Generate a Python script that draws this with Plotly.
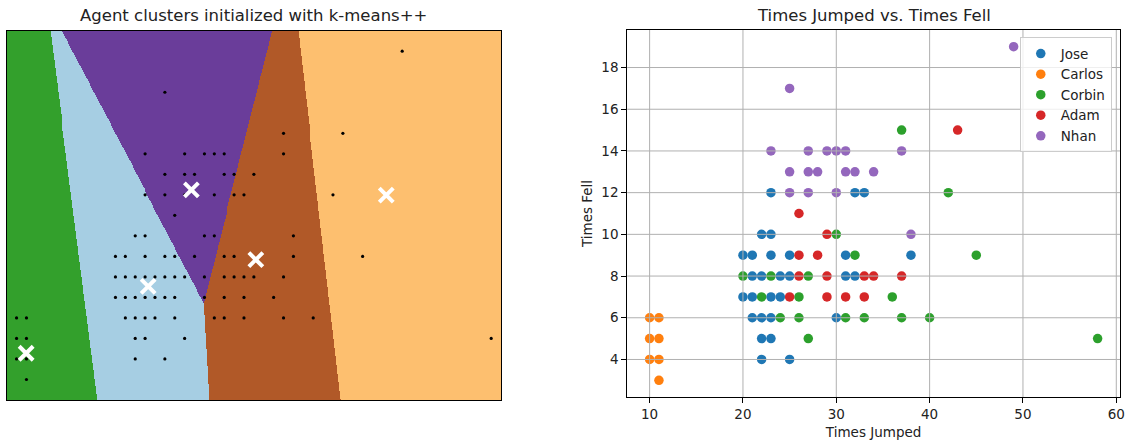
import numpy as np
import plotly.graph_objects as go

# ---------------- data ----------------
names = ["Jose", "Carlos", "Corbin", "Adam", "Nhan"]
series_colors = ["#1f77b4", "#ff7f0e", "#2ca02c", "#d62728", "#9467bd"]

jose_x = [23, 32, 33, 22, 23, 20, 21, 23, 25, 31, 38, 21, 22, 24, 25, 31, 32,
          20, 21, 23, 24, 21, 22, 23, 30, 22, 23, 22, 25]
jose_y = [12, 12, 12, 10, 10, 9, 9, 9, 9, 9, 9, 8, 8, 8, 8, 8, 8,
          7, 7, 7, 7, 6, 6, 6, 6, 5, 5, 4, 4]
carlos_x = [10, 11, 10, 11, 10, 11, 11]
carlos_y = [6, 6, 5, 5, 4, 4, 3]
corbin_x = [37, 42, 30, 32, 45, 20, 23, 27, 22, 26, 36, 24, 26, 31, 33, 37, 40, 27, 58]
corbin_y = [15, 12, 10, 9, 9, 8, 8, 8, 7, 7, 7, 6, 6, 6, 6, 6, 6, 5, 5]
adam_x = [43, 26, 29, 26, 28, 26, 29, 33, 34, 37, 25, 29, 31, 33]
adam_y = [15, 11, 10, 9, 9, 8, 8, 8, 8, 8, 7, 7, 7, 7]
nhan_x = [49, 25, 23, 27, 29, 30, 31, 37, 25, 27, 28, 31, 32, 34, 25, 27, 30, 38]
nhan_y = [19, 17, 14, 14, 14, 14, 14, 14, 13, 13, 13, 13, 13, 13, 12, 12, 12, 10]

series_x = [jose_x, carlos_x, corbin_x, adam_x, nhan_x]
series_y = [jose_y, carlos_y, corbin_y, adam_y, nhan_y]

# cluster centres and their region colours
centroid_x = [10.97, 23.31, 27.68, 34.2, 47.39]
centroid_y = [4.28, 7.54, 12.24, 8.84, 11.99]
region_colors = ["#33a02c", "#a6cee3", "#6a3d9a", "#b15928", "#fdbf6f"]

x_ticks = [10, 20, 30, 40, 50, 60]
y_ticks = [4, 6, 8, 10, 12, 14, 16, 18]

# ---------------- derived ----------------
all_x = np.array(sum(series_x, []), dtype=float)
all_y = np.array(sum(series_y, []), dtype=float)

# mesh for decision regions (data range +/- 1)
mx0, mx1 = all_x.min() - 1, all_x.max() + 1
my0, my1 = all_y.min() - 1, all_y.max() + 1
gx = np.arange(mx0, mx1 + 1e-9, 0.1)
gy = np.arange(my0, my1 + 1e-9, 0.05)
XX, YY = np.meshgrid(gx, gy)
cx = np.array(centroid_x)[:, None, None]
cy = np.array(centroid_y)[:, None, None]
Z = np.argmin((XX[None] - cx) ** 2 + (YY[None] - cy) ** 2, axis=0)

n = len(region_colors)
cscale = []
for i, c in enumerate(region_colors):
    cscale.append([i / n, c])
    cscale.append([(i + 1) / n, c])

# scatter axis range with 5% margins
xr = all_x.max() - all_x.min()
yr = all_y.max() - all_y.min()
sx0, sx1 = all_x.min() - 0.05 * xr, all_x.max() + 0.05 * xr
sy0, sy1 = all_y.min() - 0.05 * yr, all_y.max() + 0.05 * yr

W, H = 1131, 443
FONT = "DejaVu Sans"
TXT = "#222222"

fig = go.Figure()

# ---------------- left panel ----------------
fig.add_trace(go.Heatmap(
    x=gx, y=gy, z=Z, colorscale=cscale, zmin=-0.5, zmax=n - 0.5,
    showscale=False, zsmooth=False, hoverinfo="skip",
    xaxis="x", yaxis="y"))
fig.add_trace(go.Scatter(
    x=all_x, y=all_y, mode="markers",
    marker=dict(color="black", size=3.2),
    showlegend=False, xaxis="x", yaxis="y"))
fig.add_trace(go.Scatter(
    x=centroid_x, y=centroid_y, mode="markers",
    marker=dict(symbol="x-thin", size=14, color="white",
                line=dict(width=4, color="white")),
    showlegend=False, xaxis="x", yaxis="y"))

# ---------------- right panel ----------------
for nm, c, xs, ys in zip(names, series_colors, series_x, series_y):
    fig.add_trace(go.Scatter(
        x=xs, y=ys, mode="markers", name=nm,
        marker=dict(color=c, size=9.5, line=dict(width=0)),
        xaxis="x2", yaxis="y2"))

shapes = []
for t in x_ticks:
    if sx0 < t < sx1:
        shapes.append(dict(type="line", xref="x2", yref="y2 domain",
                           x0=t, x1=t, y0=0, y1=1, layer="above",
                           line=dict(color="#b0b0b0", width=1)))
for t in y_ticks:
    if sy0 < t < sy1:
        shapes.append(dict(type="line", xref="x2 domain", yref="y2",
                           x0=0, x1=1, y0=t, y1=t, layer="above",
                           line=dict(color="#b0b0b0", width=1)))

frame = dict(showline=True, mirror=True, linecolor="black", linewidth=1,
             zeroline=False)

fig.update_layout(
    width=W, height=H,
    margin=dict(l=0, r=0, t=0, b=0),
    paper_bgcolor="white", plot_bgcolor="white",
    font=dict(family=FONT, size=13.5, color=TXT),
    xaxis=dict(domain=[6.7 / W, 503.3 / W], range=[mx0, mx1],
               showticklabels=False, ticks="", showgrid=False, **frame),
    yaxis=dict(domain=[1 - 400 / H, 1 - 30.7 / H], range=[my0, my1],
               showticklabels=False, ticks="", showgrid=False, **frame),
    xaxis2=dict(domain=[630 / W, 1125 / W], range=[sx0, sx1],
                tickvals=x_ticks, ticks="outside", ticklen=5, tickwidth=1,
                tickcolor="black", showgrid=False,
                title=dict(text="Times Jumped", standoff=6,
                           font=dict(size=13.5)),
                anchor="y2", **frame),
    yaxis2=dict(domain=[1 - 397 / H, 1 - 30 / H], range=[sy0, sy1],
                tickvals=y_ticks, ticks="outside", ticklen=5, tickwidth=1,
                tickcolor="black", showgrid=False,
                title=dict(text="Times Fell", standoff=5,
                           font=dict(size=13.5)),
                anchor="x2", **frame),
    shapes=shapes,
    legend=dict(x=1116.7 / W, xanchor="right", y=1 - 37.3 / H, yanchor="top",
                bordercolor="#cccccc", borderwidth=1,
                bgcolor="rgba(255,255,255,0.8)", font=dict(size=13.5)),
    annotations=[
        dict(text="Agent clusters initialized with k-means++", xref="paper",
             yref="paper", x=255 / W, y=1 - 15.5 / H, xanchor="center",
             yanchor="middle", showarrow=False, font=dict(size=16.5)),
        dict(text="Times Jumped vs. Times Fell", xref="paper",
             yref="paper", x=877.5 / W, y=1 - 15.5 / H, xanchor="center",
             yanchor="middle", showarrow=False, font=dict(size=16.5)),
    ],
)

fig.write_html("out.html",
               config={"displayModeBar": False},
               post_script="document.body.style.margin='0';"
                           "document.body.style.overflow='hidden';")
